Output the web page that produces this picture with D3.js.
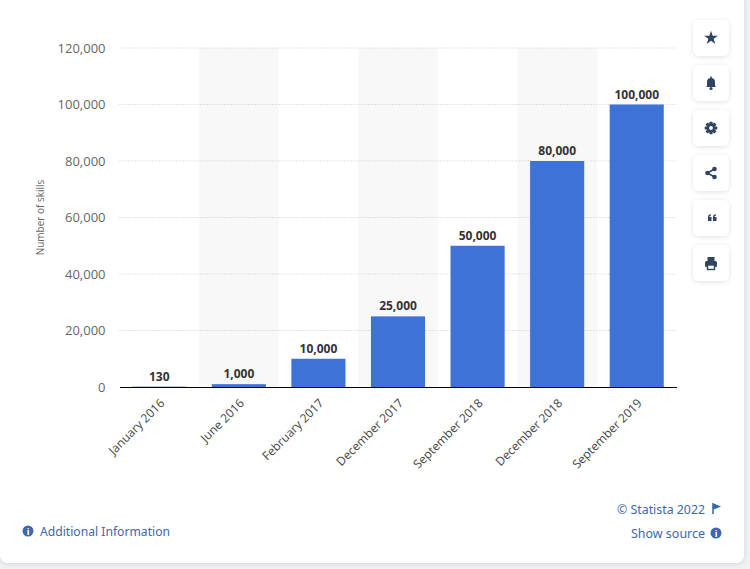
<!DOCTYPE html>
<html>
<head>
<meta charset="utf-8">
<script src="https://cdn.jsdelivr.net/npm/d3@7"></script>
<style>
  body { margin: 0; background: #eff1f4; }
  #chart { width: 750px; height: 569px; }
</style>
</head>
<body>
<div id="chart"></div>
<script>
//***************** data *******************/
var categories = ["January 2016", "June 2016", "February 2017", "December 2017",
                  "September 2018", "December 2018", "September 2019"];
var skills = [130, 1000, 10000, 25000, 50000, 80000, 100000];
var yTicks = [0, 20000, 40000, 60000, 80000, 100000, 120000];

//************* dimensions ***************/
var W = 750, H = 569;
var plot = {left: 119.5, right: 676.5, top: 48, bottom: 387};

var svg = d3.select("#chart").append("svg")
    .attr("width", W).attr("height", H)
    .style("font-family", "'Open Sans', sans-serif");

// card
var defs = svg.append("defs");
var sh = defs.append("filter").attr("id", "shadow")
    .attr("x", "-30%").attr("y", "-30%").attr("width", "160%").attr("height", "160%");
sh.append("feDropShadow").attr("dx", 0).attr("dy", 1).attr("stdDeviation", 2.5)
    .attr("flood-color", "#000").attr("flood-opacity", 0.12);

svg.append("rect")
    .attr("x", 0).attr("y", -8).attr("width", 744).attr("height", 571)
    .attr("rx", 8).attr("fill", "#fff")
    .attr("filter", "url(#shadow)");

//***************** scales *******************/
var xBand = d3.scaleBand()
    .domain(categories)
    .range([plot.left, plot.right])
    .padding(0);

var x = d3.scaleBand()
    .domain(categories)
    .range([plot.left, plot.right])
    .paddingInner(0.32)
    .paddingOuter(0.16);

var y = d3.scaleLinear()
    .domain([0, 120000])
    .range([plot.bottom, plot.top]);

// alternate band shading
svg.append("g").selectAll("rect")
  .data(categories.filter(function(d, i) { return i % 2 === 1; }))
  .enter().append("rect")
    .attr("x", function(d) { return xBand(d); })
    .attr("y", plot.top)
    .attr("width", xBand.bandwidth())
    .attr("height", plot.bottom - plot.top)
    .attr("fill", "#f8f8f8");

// grid lines
svg.append("g").selectAll("line")
  .data(yTicks.filter(function(d) { return d > 0; }))
  .enter().append("line")
    .attr("x1", plot.left).attr("x2", plot.right)
    .attr("y1", function(d) { return y(d); })
    .attr("y2", function(d) { return y(d); })
    .attr("stroke", "#c9c9c9")
    .attr("stroke-width", 1)
    .attr("stroke-dasharray", "1,2");

// Y axis
var yAxis = d3.axisLeft(y)
    .tickValues(yTicks)
    .tickSize(0)
    .tickPadding(14)
    .tickFormat(d3.format(","));
var yg = svg.append("g")
    .attr("transform", "translate(" + plot.left + ",0)")
    .call(yAxis);
yg.select(".domain").remove();
yg.selectAll("text")
    .attr("fill", "#666")
    .style("font-size", "13px")
    .style("font-family", "'Open Sans', sans-serif");

svg.append("text")
    .attr("transform", "translate(44," + ((plot.top + plot.bottom) / 2) + ") rotate(-90)")
    .attr("text-anchor", "middle")
    .attr("fill", "#666")
    .style("font-size", "10px")
    .text("Number of skills");

// bars
svg.append("g").selectAll("rect")
  .data(skills)
  .enter().append("rect")
    .attr("x", function(d, i) { return x(categories[i]); })
    .attr("y", function(d) { return y(d); })
    .attr("width", x.bandwidth())
    .attr("height", function(d) { return plot.bottom - y(d); })
    .attr("fill", "#3d72d7");

// value labels
svg.append("g").selectAll("text")
  .data(skills)
  .enter().append("text")
    .attr("x", function(d, i) { return x(categories[i]) + x.bandwidth() / 2; })
    .attr("y", function(d) { return y(d) - 6; })
    .attr("text-anchor", "middle")
    .attr("fill", "#333")
    .style("font-size", "12px")
    .style("font-weight", "bold")
    .text(function(d) { return d3.format(",")(d); });

// X axis
var xAxis = d3.axisBottom(xBand).tickSize(0).tickPadding(0);
var xg = svg.append("g")
    .attr("transform", "translate(0," + plot.bottom + ")")
    .call(xAxis);
xg.select(".domain").attr("stroke", "#000").attr("stroke-width", 1.2);
xg.selectAll("text")
    .attr("fill", "#444")
    .style("font-size", "12px")
    .style("font-family", "'Open Sans', sans-serif")
    .style("text-anchor", "end")
    .attr("dy", null)
    .attr("y", 0)
    .attr("transform", "translate(6,17) rotate(-45)");

//***************** side buttons *******************/
var icons = ["star", "bell", "gear", "share", "quote", "print"];
var btn = svg.append("g").selectAll("g")
  .data(icons)
  .enter().append("g")
    .attr("transform", function(d, i) { return "translate(693," + (20 + i * 45) + ")"; });
btn.append("rect")
    .attr("width", 36).attr("height", 36).attr("rx", 6)
    .attr("fill", "#fff").attr("filter", "url(#shadow)");
var ic = "#2f4461";
btn.each(function(d) {
  var g = d3.select(this).append("g").attr("transform", "translate(18,18)").attr("fill", ic);
  if (d === "star") {
    g.append("path").attr("d", d3.symbol(d3.symbolStar, 60)());
  } else if (d === "bell") {
    g.append("path").attr("d", "M-4,3 L-4,-1 Q-4,-5 0,-5 Q4,-5 4,-1 L4,3 L5,4 L-5,4 Z");
    g.append("circle").attr("cy", 5.5).attr("r", 1.6);
    g.append("rect").attr("x", -0.8).attr("y", -6.5).attr("width", 1.6).attr("height", 2);
  } else if (d === "gear") {
    for (var k = 0; k < 4; k++) {
      g.append("rect").attr("x", -1.6).attr("y", -6.3).attr("width", 3.2).attr("height", 12.6)
        .attr("rx", 0.6).attr("transform", "rotate(" + (k * 45) + ")");
    }
    g.append("circle").attr("r", 4.4);
    g.append("circle").attr("r", 1.9).attr("fill", "#fff");
  } else if (d === "share") {
    g.append("path").attr("d", "M3.5,-4 L-3.5,0 L3.5,4").attr("fill", "none")
      .attr("stroke", ic).attr("stroke-width", 1.5);
    g.append("circle").attr("cx", 3.5).attr("cy", -4).attr("r", 2.3);
    g.append("circle").attr("cx", -3.5).attr("cy", 0).attr("r", 2.3);
    g.append("circle").attr("cx", 3.5).attr("cy", 4).attr("r", 2.3);
  } else if (d === "quote") {
    [-3, 2].forEach(function(cx) {
      g.append("path")
        .attr("d", "M" + cx + ",-1 L" + (cx + 3.5) + ",-1 L" + (cx + 3.5) + ",3 L" + cx + ",3 Z M" +
              cx + ",-1 Q" + cx + ",-3.5 " + (cx + 3) + ",-3.8 L" + (cx + 3) + ",-2.6 Q" + (cx + 1.4) + ",-2.3 " + (cx + 1.4) + ",-1 Z");
    });
  } else if (d === "print") {
    g.append("rect").attr("x", -3.5).attr("y", -6).attr("width", 7).attr("height", 4);
    g.append("rect").attr("x", -6).attr("y", -2).attr("width", 12).attr("height", 6).attr("rx", 1.5);
    g.append("rect").attr("x", -3.5).attr("y", 2).attr("width", 7).attr("height", 4.5)
      .attr("fill", "#fff").attr("stroke", ic).attr("stroke-width", 1.4);
  }
});

//***************** footer *******************/
var blue = "#3c68ad";
var foot = svg.append("g").style("font-family", "'Noto Sans', sans-serif")
    .style("font-size", "13px").attr("fill", blue);

foot.append("text").attr("x", 705).attr("y", 514).attr("text-anchor", "end")
    .attr("textLength", 88).attr("lengthAdjust", "spacingAndGlyphs")
    .text("\u00A9 Statista 2022");
foot.append("path").attr("d", "M713,504 L713,514 M713,504 L719,506.5 L713,509 Z")
    .attr("stroke", blue).attr("stroke-width", 1.6).attr("fill", blue);

foot.append("text").attr("x", 705).attr("y", 538).attr("text-anchor", "end")
    .attr("textLength", 74).attr("lengthAdjust", "spacingAndGlyphs")
    .text("Show source");
foot.append("circle").attr("cx", 716).attr("cy", 533).attr("r", 5.5).attr("fill", blue);
foot.append("text").attr("x", 716).attr("y", 536.5).attr("text-anchor", "middle")
    .attr("fill", "#fff").style("font-size", "9px").style("font-weight", "bold").text("i");

foot.append("circle").attr("cx", 28).attr("cy", 531).attr("r", 5.5).attr("fill", blue);
foot.append("text").attr("x", 28).attr("y", 534.5).attr("text-anchor", "middle")
    .attr("fill", "#fff").style("font-size", "9px").style("font-weight", "bold").text("i");
foot.append("text").attr("x", 40).attr("y", 536)
    .attr("textLength", 130).attr("lengthAdjust", "spacingAndGlyphs")
    .text("Additional Information");
</script>
</body>
</html>
